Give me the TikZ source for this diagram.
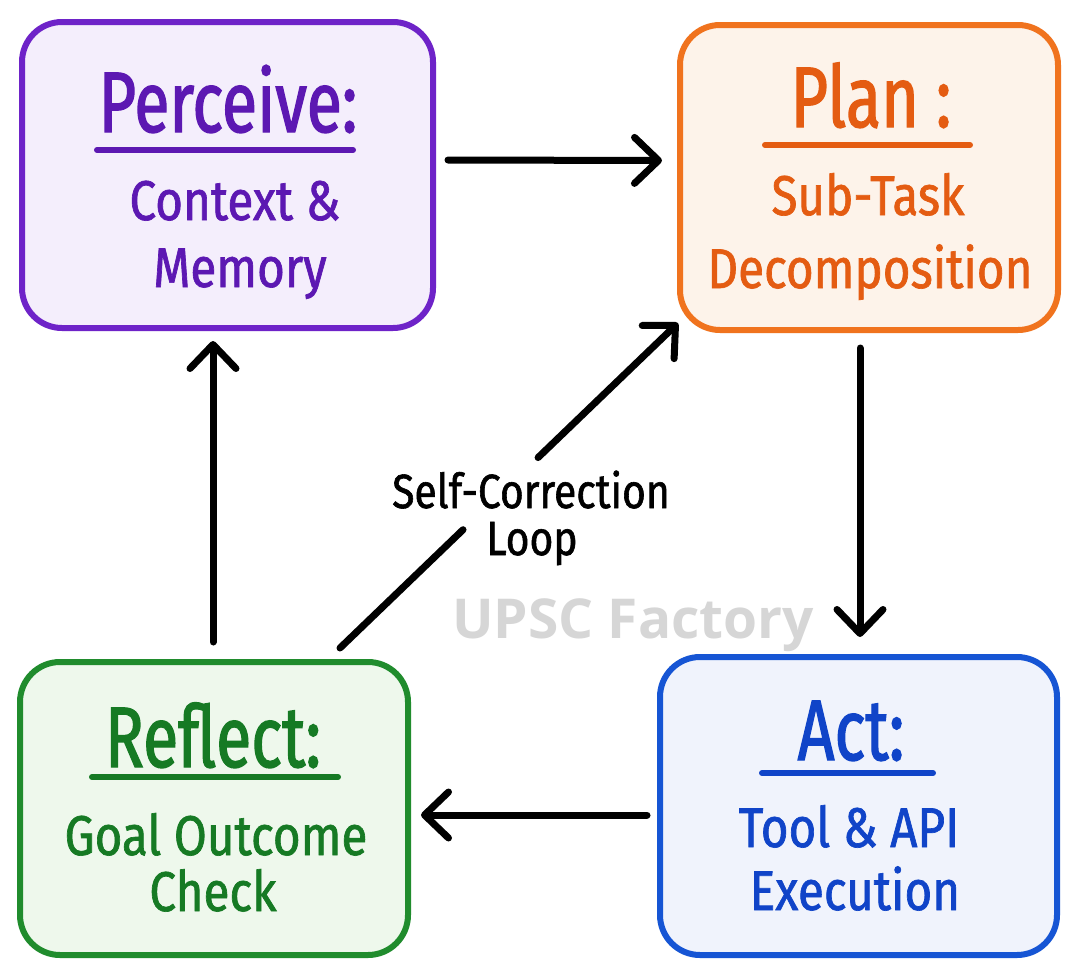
\documentclass[tikz,border=0pt]{standalone}
\usepackage{fontspec}
\usetikzlibrary{arrows.meta,calc}
\newfontfamily\handfont[FakeStretch=0.85,FakeBold=1.2]{Fira Sans}
\newfontfamily\titlefont[FakeStretch=0.75,FakeBold=1.5]{Fira Sans}
\newfontfamily\wmfont{Open Sans}
\definecolor{purS}{RGB}{110,35,200}
\definecolor{purT}{RGB}{92,24,178}
\definecolor{purF}{RGB}{244,238,252}
\definecolor{orgS}{RGB}{240,115,30}
\definecolor{orgT}{RGB}{228,92,18}
\definecolor{orgF}{RGB}{253,243,234}
\definecolor{grnS}{RGB}{32,140,45}
\definecolor{grnT}{RGB}{22,122,36}
\definecolor{grnF}{RGB}{238,248,236}
\definecolor{bluS}{RGB}{22,85,212}
\definecolor{bluT}{RGB}{16,68,200}
\definecolor{bluF}{RGB}{240,243,252}
\definecolor{wmgray}{RGB}{214,214,214}
\begin{document}
\begin{tikzpicture}[x=1pt,y=-1pt,
  box/.style={draw, line width=6pt, rounded corners=40pt, inner sep=0pt},
  titletext/.style={anchor=base, inner sep=0pt, font=\titlefont\fontsize{86}{90}\selectfont},
  bodytext/.style={anchor=base, inner sep=0pt, font=\handfont\fontsize{56}{60}\selectfont},
  uline/.style={line width=6pt, line cap=round},
  arr/.style={line width=7pt, line cap=round, -{Straight Barb[length=24pt,width=46pt,round]}}]
\useasboundingbox[fill=white] (0,0) rectangle (1080,978);

% watermark
\node[anchor=base, inner sep=0pt, text=wmgray, font=\wmfont\bfseries\fontsize{55}{60}\selectfont] (wm) at (633,638) {UPSC Factory};

% boxes
\node[box, draw=purS, fill=purF, minimum width=411pt, minimum height=306pt] (perc) at (227.5,175) {};
\node[box, draw=orgS, fill=orgF, minimum width=378pt, minimum height=305pt] (plan) at (869,177.5) {};
\node[box, draw=grnS, fill=grnF, minimum width=388pt, minimum height=293pt] (refl) at (214,808.5) {};
\node[box, draw=bluS, fill=bluF, minimum width=397pt, minimum height=298pt] (act) at (858.5,806) {};

% Perceive
\node[titletext, text=purT] (percT) at (228,132) {Perceive:};
\draw[uline, draw=purT] (97,150) -- (353,150);
\node[bodytext, text=purT] (percA) at (235,220) {Context \&};
\node[bodytext, text=purT] (percB) at (240,287) {Memory};

% Plan
\node[titletext, text=orgT] (planT) at (871,127) {Plan :};
\draw[uline, draw=orgT] (765,145) -- (970,145);
\node[bodytext, text=orgT] (planA) at (868,215) {Sub-Task};
\node[bodytext, text=orgT] (planB) at (870,288) {Decomposition};

% Reflect
\node[titletext, text=grnT] (reflT) at (213,767) {Reflect:};
\draw[uline, draw=grnT] (92,777) -- (338,777);
\node[bodytext, text=grnT] (reflA) at (216,855) {Goal Outcome};
\node[bodytext, text=grnT] (reflB) at (213,911) {Check};

% Act
\node[titletext, text=bluT] (actT) at (851,760) {Act:};
\draw[uline, draw=bluT] (762,773) -- (933,773);
\node[bodytext, text=bluT] (actA) at (849,847) {Tool \& API};
\node[bodytext, text=bluT] (actB) at (855,910) {Execution};

% arrows
\draw[arr, shorten <=12pt, shorten >=15pt] ([yshift=15pt]perc.east) -- ([yshift=17pt]plan.west);
\draw[arr, shorten <=15pt, shorten >=17pt] ([xshift=-9pt]plan.south) -- ([xshift=1.5pt]act.north);
\draw[arr, shorten <=10pt, shorten >=10pt] ([yshift=-9pt]act.west) -- ([yshift=-6.5pt]refl.east);
\draw[arr, shorten <=17pt, shorten >=10pt] ([xshift=-1pt]refl.north) -- ([xshift=-14.5pt]perc.south);

% self-correction loop
\coordinate (scA) at (340,648);
\coordinate (scB) at (678,323);
\coordinate (scM1) at ($(scA)!0.364!(scB)$);
\coordinate (scM2) at ($(scA)!0.586!(scB)$);
\draw[line width=7pt, line cap=round] (scA) -- (scM1);
\draw[arr] (scM2) -- (scB);
\node[bodytext, font=\handfont\fontsize{48}{56}\selectfont] (scL1) at (531,508) {Self-Correction};
\node[bodytext, font=\handfont\fontsize{48}{56}\selectfont] (scL2) at (532,555) {Loop};
\end{tikzpicture}
\end{document}
